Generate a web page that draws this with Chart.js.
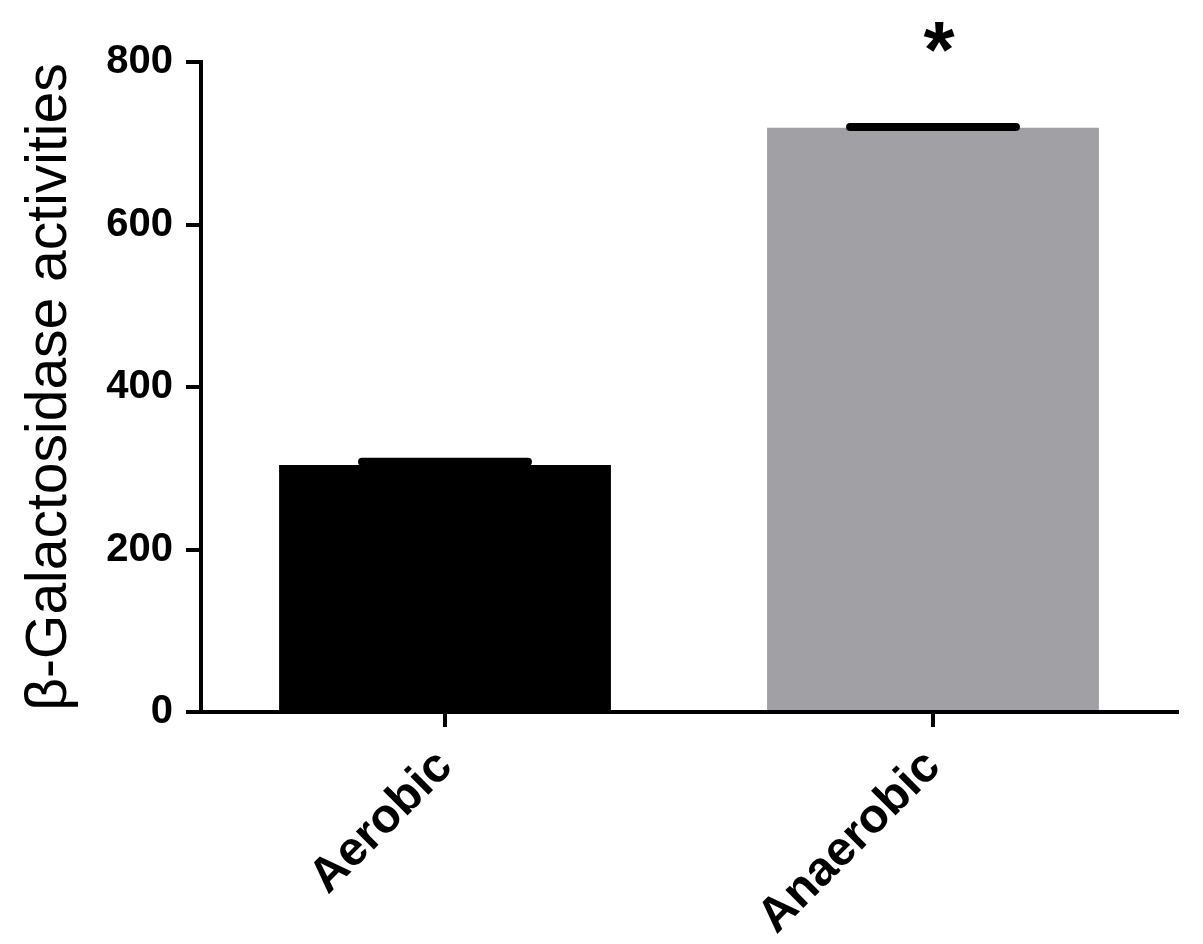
<!DOCTYPE html>
<html>
<head>
<meta charset="utf-8">
<script src="https://cdn.jsdelivr.net/npm/chart.js@4.4.0/dist/chart.umd.min.js"></script>
<style>
  html, body { margin: 0; padding: 0; background: #fff; }
  canvas { display: block; }
</style>
</head>
<body>
<canvas id="myChart" width="1203" height="944"></canvas>
<script>
// datos del grafico
const categories = ['Aerobic', 'Anaerobic'];
const means = [304, 719];
const sems = [4, 1];
const marks = ['', '*'];
const yTicks = [0, 200, 400, 600, 800];
const barColors = ['#000000', '#a1a1a5'];

const yTitle = 'β-Galactosidase activities';

Chart.defaults.font.family = '"Liberation Sans", Arial, sans-serif';
Chart.defaults.color = '#000';

// barras de error + asterisco
const errorBars = {
  id: 'errorBars',
  afterDatasetsDraw(chart) {
    const ctx = chart.ctx;
    const yScale = chart.scales.y;
    const meta = chart.getDatasetMeta(0);
    ctx.save();
    meta.data.forEach((bar, i) => {
      const top = yScale.getPixelForValue(means[i] + sems[i]);
      const mid = yScale.getPixelForValue(means[i]);
      const half = bar.width / 4;
      ctx.strokeStyle = '#000';
      ctx.lineWidth = 4;
      ctx.beginPath();
      ctx.moveTo(bar.x, mid);
      ctx.lineTo(bar.x, top);
      ctx.stroke();
      ctx.lineWidth = 8;
      ctx.lineCap = 'round';
      ctx.beginPath();
      ctx.moveTo(bar.x - half, top);
      ctx.lineTo(bar.x + half, top);
      ctx.stroke();
      if (marks[i]) {
        ctx.fillStyle = '#000';
        ctx.font = 'bold 80px "Liberation Sans", Arial, sans-serif';
        ctx.textAlign = 'center';
        ctx.textBaseline = 'alphabetic';
        ctx.fillText(marks[i], bar.x + 6, top - 50);
      }
    });
    ctx.restore();
  }
};

const ctx = document.getElementById('myChart').getContext('2d');
const chart = new Chart(ctx, {
  type: 'bar',
  data: {
    labels: categories,
    datasets: [{
      data: means,
      backgroundColor: barColors,
      borderWidth: 0,
      barPercentage: 0.68,
      categoryPercentage: 1
    }]
  },
  options: {
    responsive: false,
    animation: false,
    layout: { padding: { top: 62, right: 26, left: 16, bottom: 0 } },
    plugins: {
      legend: { display: false },
      tooltip: { enabled: false }
    },
    scales: {
      x: {
        grid: {
          offset: false,
          drawOnChartArea: false,
          tickLength: 15,
          lineWidth: 4,
          color: '#000'
        },
        border: { color: '#000', width: 4 },
        ticks: {
          minRotation: 45,
          maxRotation: 45,
          padding: 12,
          font: { size: 48, weight: 'bold' }
        },
        afterFit(scale) { scale.height = 232; }
      },
      y: {
        min: 0,
        max: 800,
        afterBuildTicks(scale) { scale.ticks = yTicks.map(v => ({ value: v })); },
        grid: {
          drawOnChartArea: false,
          tickLength: 15,
          lineWidth: 4,
          color: '#000'
        },
        border: { color: '#000', width: 4 },
        ticks: {
          padding: 13,
          font: { size: 40, weight: 'bold' }
        },
        title: {
          display: true,
          text: yTitle,
          font: { size: 57 },
          padding: { top: 0, bottom: 0 }
        },
        afterFit(scale) { scale.width = 185; }
      }
    }
  },
  plugins: [errorBars]
});
</script>
</body>
</html>
